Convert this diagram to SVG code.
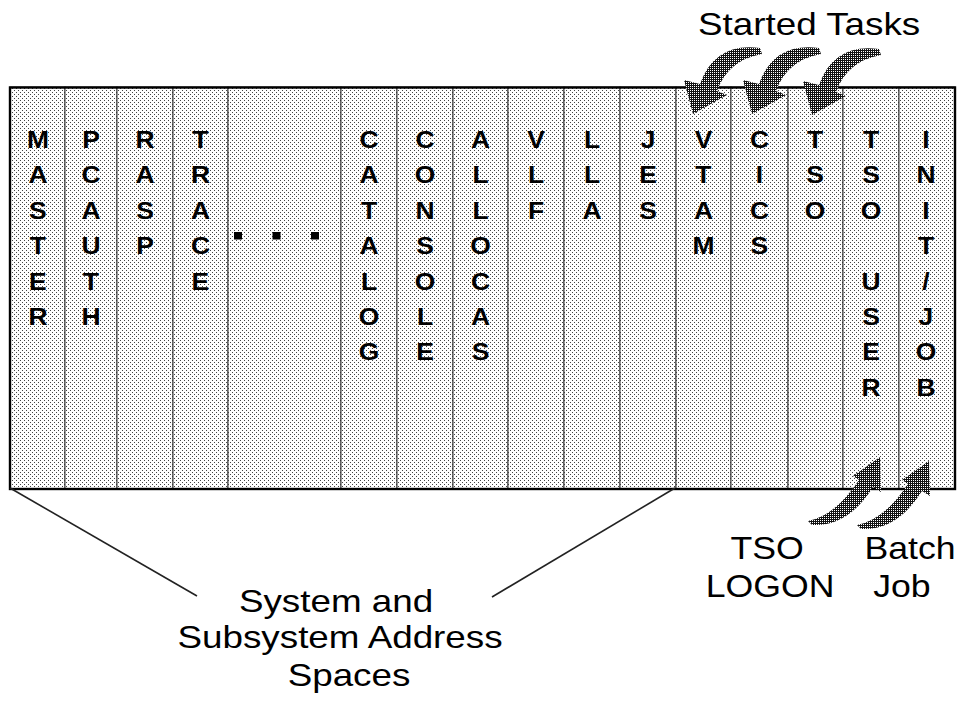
<svg xmlns="http://www.w3.org/2000/svg" width="960" height="704" viewBox="0 0 960 704">
<defs>
<pattern id="lt" width="4" height="4" patternUnits="userSpaceOnUse"><rect width="4" height="4" fill="#fff"/><rect width="1" height="1" fill="#444"/><rect x="2" y="2" width="1" height="1" fill="#444"/></pattern>
<pattern id="dk" width="2" height="2" patternUnits="userSpaceOnUse"><rect width="2" height="2" fill="#111"/><rect width="1" height="1" fill="#fff"/></pattern>
<path id="arrDown" d="M760 48 Q715 42 700 84 L684 80 L693 114 L727 95 L717 91 Q728 60 762 54 Z"/>
<path id="arrUp" d="M808 521 Q835 516 859 480 L853 476 L880 457 L881 492 L873 487 Q848 527 812 525 Z"/>
</defs>
<style>
.col{fill:url(#lt);stroke:#333;stroke-width:1}
.v{font-family:"Liberation Sans",Arial,sans-serif;font-size:23px;font-weight:bold;fill:#000;text-anchor:middle}
.lbl{font-family:"Liberation Sans",Arial,sans-serif;font-size:32px;fill:#000}
.mid{text-anchor:middle}
.arr{fill:url(#dk)}
.conn{stroke:#222;stroke-width:1.6;fill:none}
</style>
<rect width="960" height="704" fill="#fff"/>

<g id="col-master"><rect class="col" x="10" y="87" width="55" height="402"/>
<text class="v" transform="scale(1.15 1)"><tspan x="33" y="148">M</tspan><tspan x="33" dy="35.4">A</tspan><tspan x="33" dy="35.4">S</tspan><tspan x="33" dy="35.4">T</tspan><tspan x="33" dy="35.4">E</tspan><tspan x="33" dy="35.4">R</tspan></text></g>
<g id="col-pcauth"><rect class="col" x="65" y="87" width="52" height="402"/>
<text class="v" transform="scale(1.15 1)"><tspan x="79.1" y="148">P</tspan><tspan x="79.1" dy="35.4">C</tspan><tspan x="79.1" dy="35.4">A</tspan><tspan x="79.1" dy="35.4">U</tspan><tspan x="79.1" dy="35.4">T</tspan><tspan x="79.1" dy="35.4">H</tspan></text></g>
<g id="col-rasp"><rect class="col" x="117" y="87" width="56" height="402"/>
<text class="v" transform="scale(1.15 1)"><tspan x="126.1" y="148">R</tspan><tspan x="126.1" dy="35.4">A</tspan><tspan x="126.1" dy="35.4">S</tspan><tspan x="126.1" dy="35.4">P</tspan></text></g>
<g id="col-trace"><rect class="col" x="173" y="87" width="55" height="402"/>
<text class="v" transform="scale(1.15 1)"><tspan x="174.3" y="148">T</tspan><tspan x="174.3" dy="35.4">R</tspan><tspan x="174.3" dy="35.4">A</tspan><tspan x="174.3" dy="35.4">C</tspan><tspan x="174.3" dy="35.4">E</tspan></text></g>
<g id="col-more"><rect class="col" x="228" y="87" width="113" height="402"/>
<rect x="234" y="232" width="8" height="7.5" fill="#000"/><rect x="272.5" y="232" width="8" height="7.5" fill="#000"/><rect x="311" y="232" width="8" height="7.5" fill="#000"/></g>
<g id="col-catalog"><rect class="col" x="341" y="87" width="56" height="402"/>
<text class="v" transform="scale(1.15 1)"><tspan x="320.9" y="148">C</tspan><tspan x="320.9" dy="35.4">A</tspan><tspan x="320.9" dy="35.4">T</tspan><tspan x="320.9" dy="35.4">A</tspan><tspan x="320.9" dy="35.4">L</tspan><tspan x="320.9" dy="35.4">O</tspan><tspan x="320.9" dy="35.4">G</tspan></text></g>
<g id="col-console"><rect class="col" x="397" y="87" width="56" height="402"/>
<text class="v" transform="scale(1.15 1)"><tspan x="369.6" y="148">C</tspan><tspan x="369.6" dy="35.4">O</tspan><tspan x="369.6" dy="35.4">N</tspan><tspan x="369.6" dy="35.4">S</tspan><tspan x="369.6" dy="35.4">O</tspan><tspan x="369.6" dy="35.4">L</tspan><tspan x="369.6" dy="35.4">E</tspan></text></g>
<g id="col-allocas"><rect class="col" x="453" y="87" width="55" height="402"/>
<text class="v" transform="scale(1.15 1)"><tspan x="417.8" y="148">A</tspan><tspan x="417.8" dy="35.4">L</tspan><tspan x="417.8" dy="35.4">L</tspan><tspan x="417.8" dy="35.4">O</tspan><tspan x="417.8" dy="35.4">C</tspan><tspan x="417.8" dy="35.4">A</tspan><tspan x="417.8" dy="35.4">S</tspan></text></g>
<g id="col-vlf"><rect class="col" x="508" y="87" width="56" height="402"/>
<text class="v" transform="scale(1.15 1)"><tspan x="466.1" y="148">V</tspan><tspan x="466.1" dy="35.4">L</tspan><tspan x="466.1" dy="35.4">F</tspan></text></g>
<g id="col-lla"><rect class="col" x="564" y="87" width="56" height="402"/>
<text class="v" transform="scale(1.15 1)"><tspan x="514.8" y="148">L</tspan><tspan x="514.8" dy="35.4">L</tspan><tspan x="514.8" dy="35.4">A</tspan></text></g>
<g id="col-jes"><rect class="col" x="620" y="87" width="56" height="402"/>
<text class="v" transform="scale(1.15 1)"><tspan x="563.5" y="148">J</tspan><tspan x="563.5" dy="35.4">E</tspan><tspan x="563.5" dy="35.4">S</tspan></text></g>
<g id="col-vtam"><rect class="col" x="676" y="87" width="55" height="402"/>
<text class="v" transform="scale(1.15 1)"><tspan x="611.7" y="148">V</tspan><tspan x="611.7" dy="35.4">T</tspan><tspan x="611.7" dy="35.4">A</tspan><tspan x="611.7" dy="35.4">M</tspan></text></g>
<g id="col-cics"><rect class="col" x="731" y="87" width="57" height="402"/>
<text class="v" transform="scale(1.15 1)"><tspan x="660.4" y="148">C</tspan><tspan x="660.4" dy="35.4">I</tspan><tspan x="660.4" dy="35.4">C</tspan><tspan x="660.4" dy="35.4">S</tspan></text></g>
<g id="col-tso"><rect class="col" x="788" y="87" width="55" height="402"/>
<text class="v" transform="scale(1.15 1)"><tspan x="708.7" y="148">T</tspan><tspan x="708.7" dy="35.4">S</tspan><tspan x="708.7" dy="35.4">O</tspan></text></g>
<g id="col-tsouser"><rect class="col" x="843" y="87" width="56" height="402"/>
<text class="v" transform="scale(1.15 1)"><tspan x="757.4" y="148">T</tspan><tspan x="757.4" dy="35.4">S</tspan><tspan x="757.4" dy="35.4">O</tspan><tspan x="757.4" dy="70.8">U</tspan><tspan x="757.4" dy="35.4">S</tspan><tspan x="757.4" dy="35.4">E</tspan><tspan x="757.4" dy="35.4">R</tspan></text></g>
<g id="col-initjob"><rect class="col" x="899" y="87" width="56" height="402"/>
<text class="v" transform="scale(1.15 1)"><tspan x="805.2" y="148">I</tspan><tspan x="805.2" dy="35.4">N</tspan><tspan x="805.2" dy="35.4">I</tspan><tspan x="805.2" dy="35.4">T</tspan><tspan x="805.2" dy="35.4">/</tspan><tspan x="805.2" dy="35.4">J</tspan><tspan x="805.2" dy="35.4">O</tspan><tspan x="805.2" dy="35.4">B</tspan></text></g>

<rect id="frame" x="10" y="87.5" width="945" height="401.5" fill="none" stroke="#000" stroke-width="2.4"/>

<g id="connectors">
<line class="conn" x1="10" y1="488" x2="197" y2="596"/>
<line class="conn" x1="675" y1="488" x2="492" y2="597"/>
</g>

<g id="arrows">
<use href="#arrDown" class="arr"/>
<use href="#arrDown" class="arr" transform="translate(59 0)"/>
<use href="#arrDown" class="arr" transform="translate(119 1)"/>
<use href="#arrUp" class="arr"/>
<use href="#arrUp" class="arr" transform="translate(49 4)"/>
</g>

<g id="label-started"><text class="lbl" transform="scale(1.15 1)" x="607" y="35">Started Tasks</text></g>
<g id="label-spaces"><text class="lbl mid" transform="scale(1.15 1)"><tspan x="292.2" y="612">System and</tspan><tspan x="295.7" y="648">Subsystem Address</tspan><tspan x="303.5" y="686">Spaces</tspan></text></g>
<g id="label-tso"><text class="lbl mid" transform="scale(1.15 1)" style="font-size:31px"><tspan x="667" y="559">TSO</tspan><tspan x="669.6" y="597">LOGON</tspan></text></g>
<g id="label-batch"><text class="lbl mid" transform="scale(1.15 1)" style="font-size:31px"><tspan x="791.3" y="559">Batch</tspan><tspan x="784.3" y="597">Job</tspan></text></g>
</svg>
